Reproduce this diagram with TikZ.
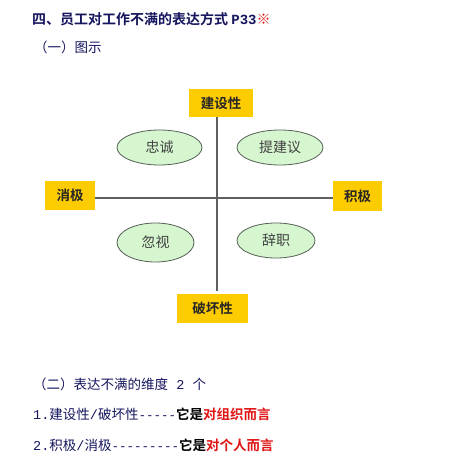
\documentclass[tikz,border=0pt]{standalone}
\usepackage{fontspec}
\setmainfont{Noto Sans CJK SC}[BoldFont={Noto Sans CJK SC Bold}]
\setmonofont{Liberation Mono}
\usetikzlibrary{shapes.geometric}
\definecolor{navy}{RGB}{22,22,95}
\definecolor{redtxt}{RGB}{225,20,20}
\definecolor{boxyellow}{RGB}{252,204,0}
\definecolor{ellfill}{RGB}{214,246,208}
\definecolor{elldraw}{RGB}{85,95,85}
\definecolor{axis}{RGB}{95,95,95}
\newcommand{\dashrun}[1]{{\ttfamily\fontsize{12.5}{14}\selectfont #1}}
\tikzset{
  x=1pt,y=1pt,
  txt/.style={anchor=west,inner sep=0pt,font=\fontsize{13.5}{14}\selectfont,text=navy},
  ybox/.style={fill=boxyellow,inner sep=0pt,font=\fontsize{13.5}{14}\selectfont\bfseries,text=black!85},
  oval/.style={ellipse,draw=elldraw,line width=0.8pt,fill=ellfill,inner sep=0pt,font=\fontsize{14}{15}\selectfont,text=black!75},
  axisline/.style={draw=axis,line width=1.4pt}
}
\begin{document}
\begin{tikzpicture}
\useasboundingbox[fill=white] (0,0) rectangle (463,-473);
% title
\node[txt,font=\fontsize{14}{15}\selectfont\bfseries] (title) at (32,-19) {四、员工对工作不满的表达方式 {\ttfamily\bfseries P33}{\color{redtxt}\bfseries ※}};
\node[txt] (sub1) at (34,-47) {（一）图示};
% diagram boxes
\node[ybox,minimum width=64,minimum height=28] (jsx) at (221,-103) {建设性};
\node[ybox,minimum width=71,minimum height=29] (phx) at (212.5,-308.5) {破坏性};
\node[ybox,minimum width=50,minimum height=29] (xj) at (70,-195.5) {消极};
\node[ybox,minimum width=49,minimum height=30] (jj) at (357.5,-196) {积极};
% axes
\coordinate (vt) at (217,-117);
\coordinate (vb) at (217,-291);
\coordinate (hl) at (95,-198);
\coordinate (hr) at (333,-198);
\draw[axisline] (vt) -- (vb);
\draw[axisline] (hl) -- (hr);
% ellipses
\node[oval,minimum width=85,minimum height=35] (zc) at (159.5,-147.5) {忠诚};
\node[oval,minimum width=86,minimum height=35] (tjy) at (280,-147.5) {提建议};
\node[oval,minimum width=77,minimum height=39] (hs) at (155.5,-242.5) {忽视};
\node[oval,minimum width=78,minimum height=35] (cz) at (276,-240.5) {辞职};
% bottom text
\node[txt] (sub2) at (33,-384) {（二）表达不满的维度{\ttfamily\ 2 }个};
\node[txt] (l1) at (33,-414) {{\ttfamily 1.}建设性{\ttfamily /}破坏性\dashrun{-----}{\bfseries\color{black}它是}{\bfseries\color{redtxt}对组织而言}};
\node[txt] (l2) at (33,-445) {{\ttfamily 2.}积极{\ttfamily /}消极\dashrun{---------}{\bfseries\color{black}它是}{\bfseries\color{redtxt}对个人而言}};
\end{tikzpicture}
\end{document}
